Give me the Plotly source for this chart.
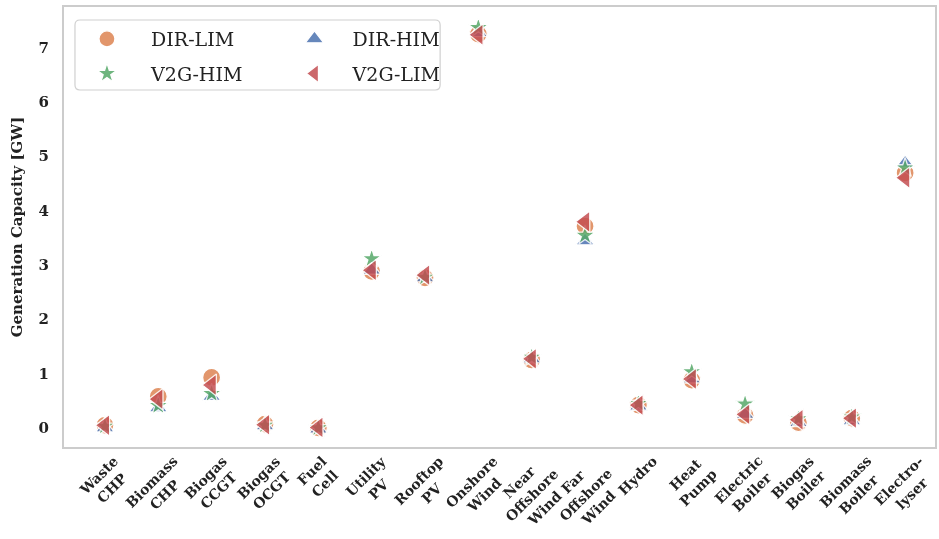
import plotly.graph_objects as go

# Installed generation / conversion capacity per technology and scenario [GW]
technologies = [
    "Waste<br>CHP", "Biomass<br>CHP", "Biogas<br>CCGT", "Biogas<br>OCGT", "Fuel<br>Cell",
    "Utility<br>PV", "Rooftop<br>PV", "Onshore<br>Wind", "Near<br>Offshore<br>Wind",
    "Far<br>Offshore<br>Wind", "Hydro", "Heat<br>Pump", "Electric<br>Boiler",
    "Biogas<br>Boiler", "Biomass<br>Boiler", "Electro-<br>lyser",
]
dir_lim = [0.05, 0.58, 0.93, 0.07, 0.00, 2.88, 2.76, 7.24, 1.25, 3.71, 0.42, 0.88, 0.23, 0.10, 0.18, 4.69]
dir_him = [0.00, 0.37, 0.58, 0.04, -0.02, 2.90, 2.76, 7.27, 1.27, 3.44, 0.40, 0.90, 0.25, 0.10, 0.13, 4.87]
v2g_him = [0.03, 0.41, 0.63, 0.05, 0.00, 3.11, 2.77, 7.36, 1.30, 3.54, 0.45, 1.03, 0.44, 0.17, 0.20, 4.78]
v2g_lim = [0.05, 0.53, 0.79, 0.06, 0.01, 2.90, 2.81, 7.23, 1.27, 3.79, 0.42, 0.90, 0.25, 0.15, 0.18, 4.60]
y_ticks = [0, 1, 2, 3, 4, 5, 6, 7]

SERIF = "DejaVu Serif"
W, H = 939, 539
M = dict(l=64, r=2, t=7, b=92)
PW = W - M["l"] - M["r"]
PH = H - M["t"] - M["b"]

series = [
    ("DIR-LIM", dir_lim, "circle", "#DD8452", 18, "legend", 4),
    ("DIR-HIM", dir_him, "triangle-up", "#4C72B0", 16, "legend2", 3),
    ("V2G-HIM", v2g_him, "star", "#55A868", 15, "legend", 4),
    ("V2G-LIM", v2g_lim, "triangle-left", "#C44E52", 19, "legend2", 3),
]

fig = go.Figure()
for name, vals, sym, col, size, leg, pad in series:
    fig.add_trace(go.Scatter(
        x=technologies, y=vals, mode="markers", name="\u00a0" * pad + name,
        legend=leg, legendgroup=name, opacity=0.85,
        marker=dict(symbol=sym, color=col, size=size,
                    line=dict(color="white", width=1.3)),
    ))

# Rotated category labels below the axis
for t in technologies:
    fig.add_annotation(
        x=t, xref="x", y=0, yref="paper", yshift=-3, yanchor="top", xanchor="center",
        text=t, showarrow=False, textangle=-45, align="center",
        font=dict(family=SERIF, size=14, color="#222222", weight="bold"),
    )


def px_x(p):
    return (p - M["l"]) / PW


def px_y(p):
    return (H - M["b"] - p) / PH


# Rounded frame around the two legend columns
x0, x1, y0, y1, r = 75, 441, 20, 90, 5
path = (
    f"M {px_x(x0 + r)},{px_y(y0)} L {px_x(x1 - r)},{px_y(y0)} "
    f"Q {px_x(x1)},{px_y(y0)} {px_x(x1)},{px_y(y0 + r)} "
    f"L {px_x(x1)},{px_y(y1 - r)} Q {px_x(x1)},{px_y(y1)} {px_x(x1 - r)},{px_y(y1)} "
    f"L {px_x(x0 + r)},{px_y(y1)} Q {px_x(x0)},{px_y(y1)} {px_x(x0)},{px_y(y1 - r)} "
    f"L {px_x(x0)},{px_y(y0 + r)} Q {px_x(x0)},{px_y(y0)} {px_x(x0 + r)},{px_y(y0)} Z"
)
fig.add_shape(type="path", path=path, xref="paper", yref="paper",
              line=dict(color="#d0d0d0", width=1.2), fillcolor="rgba(255,255,255,0.8)",
              layer="below")

leg_common = dict(
    bgcolor="rgba(0,0,0,0)", borderwidth=0, font=dict(family=SERIF, size=19, color="#222222"),
    tracegroupgap=7, yanchor="top", xanchor="left", itemsizing="trace",
)

fig.update_layout(
    width=W, height=H, margin=M,
    paper_bgcolor="white", plot_bgcolor="white",
    showlegend=True,
    legend=dict(x=px_x(87), y=px_y(20), **leg_common),
    legend2=dict(x=px_x(295), y=px_y(20), **leg_common),
    xaxis=dict(
        type="category", categoryorder="array", categoryarray=technologies,
        range=[-0.767, 15.56], showticklabels=False, ticks="", showgrid=False,
        zeroline=False, showline=True, mirror=True, linecolor="#cccccc", linewidth=2,
    ),
    yaxis=dict(
        range=[-0.35, 7.74], tickvals=y_ticks, ticks="", showgrid=False, zeroline=False,
        showline=True, mirror=True, linecolor="#cccccc", linewidth=2,
        tickfont=dict(family=SERIF, size=15, color="#222222", weight="bold"),
        ticklabelstandoff=10,
        title=dict(text="Generation Capacity [GW]", standoff=12,
                   font=dict(family=SERIF, size=15, color="#222222", weight="bold")),
    ),
)

fig.write_html("out.html")
